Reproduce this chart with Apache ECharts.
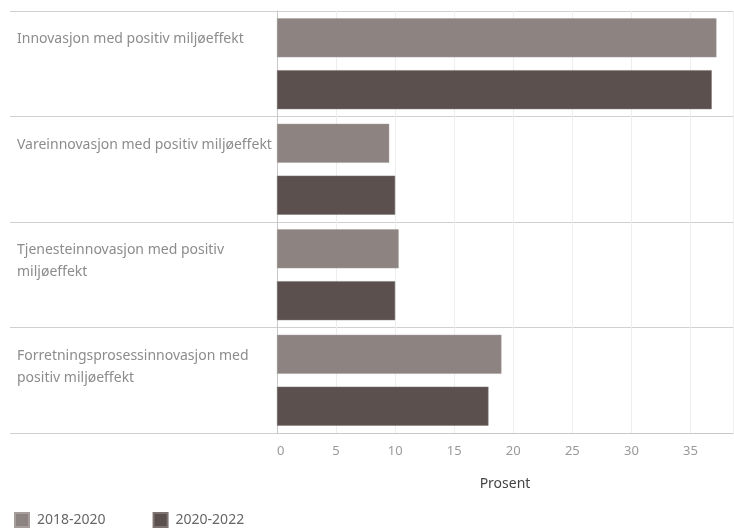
<!DOCTYPE html>
<html><head><meta charset="utf-8">
<script src="https://cdn.jsdelivr.net/npm/echarts@6/dist/echarts.min.js"></script>
<style>html,body{margin:0;padding:0;background:#fff}#c{width:734px;height:528px}</style>
</head><body><div id="c"></div>
<script>
const categories = [
  "Innovasjon med positiv miljøeffekt",
  "Vareinnovasjon med positiv miljøeffekt",
  "Tjenesteinnovasjon med positiv\nmiljøeffekt",
  "Forretningsprosessinnovasjon med\npositiv miljøeffekt"
];
const seriesNames = ["2018-2020", "2020-2022"];
const values2018 = [37.2, 9.5, 10.3, 19.0];
const values2022 = [36.8, 10.0, 10.0, 17.9];
const xAxisName = "Prosent";

const font = "Noto Sans";
const chart = echarts.init(document.getElementById('c'));
chart.setOption({
  animation: false,
  textStyle: { fontFamily: font },
  grid: { left: 277, right: 1, top: 11, bottom: 95, containLabel: false },
  legend: {
    left: 9, bottom: -5, icon: 'rect', itemWidth: 14, itemHeight: 14, itemGap: 47,
    textStyle: { fontFamily: font, fontSize: 14, color: '#666', padding: [0,0,0,3] },
    data: seriesNames
  },
  xAxis: {
    type: 'value', min: 0, max: 38.6, interval: 5,
    name: xAxisName, nameLocation: 'middle', nameGap: 44,
    nameTextStyle: { fontFamily: font, fontSize: 14, color: '#444', fontWeight: 'normal' },
    axisLine: { show: true, lineStyle: { color: '#c8c8c8' } },
    axisTick: { show: false },
    axisLabel: { color: '#999', fontSize: 13, margin: 12, showMaxLabel: false, alignMinLabel: 'left',
      formatter: v => (v % 5 === 0 ? String(v) : '') },
    splitLine: { show: true, lineStyle: { color: '#eeeeee' } }
  },
  yAxis: {
    type: 'category', inverse: true, data: categories,
    axisLine: { show: true, lineStyle: { color: '#c8c8c8' } },
    axisTick: { show: true, length: 267, lineStyle: { color: '#d0d0d0' } },
    splitLine: { show: true, lineStyle: { color: '#d0d0d0' } },
    axisLabel: { align: 'left', margin: 260, color: '#8c8c8c', fontSize: 14,
      lineHeight: 22, verticalAlign: 'middle',
      rich: { p: { lineHeight: 5, fontSize: 4 } },
      formatter: v => { const lines = v.split('\n'); while (lines.length < 3) lines.push(' '); lines.push('{p| }'); return lines.join('\n'); } }
  },
  series: [
    { name: seriesNames[0], type: 'bar', data: values2018, barWidth: 39, barGap: '33%',
      itemStyle: { color: '#8d8481', borderColor: '#a59e9c', borderWidth: 0.5 } },
    { name: seriesNames[1], type: 'bar', data: values2022, barWidth: 39, barGap: '33%',
      itemStyle: { color: '#5b504d', borderColor: '#7d7472', borderWidth: 0.5 } }
  ]
});
</script></body></html>
